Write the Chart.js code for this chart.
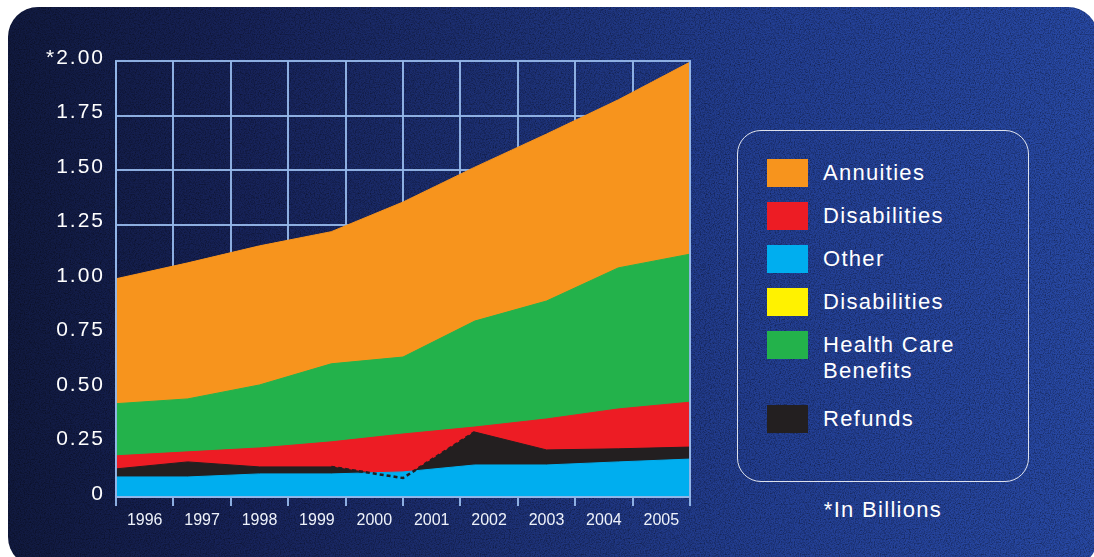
<!DOCTYPE html>
<html>
<head>
<meta charset="utf-8">
<script src="https://cdn.jsdelivr.net/npm/chart.js@4.4.1/dist/chart.umd.min.js"></script>
<style>
html, body { margin: 0; padding: 0; width: 1094px; height: 557px; overflow: hidden; background: #fff; font-family: "Liberation Sans", Arial, sans-serif; }
#panel {
    position: absolute; left: 8px; top: 7px; width: 1090px; height: 560px; border-radius: 30px;
    background-image:
        url("data:image/svg+xml;utf8,<svg xmlns='http://www.w3.org/2000/svg' width='400' height='400'><filter id='n'><feTurbulence type='fractalNoise' baseFrequency='0.8' numOctaves='3' stitchTiles='stitch'/><feColorMatrix values='0 0 0 0 0  0 0 0 0 0  0 0 0 0 0  0.9 0 0 0 -0.35'/></filter><rect width='100%' height='100%' filter='url(%23n)'/></svg>"),
        linear-gradient(90deg, #111a40 0%, #17235a 22%, #1d3176 45%, #233f94 70%, #2849a5 100%);
}
#chartWrap { position: absolute; left: 0; top: 0; width: 720px; height: 557px; }
#legend {
    position: absolute; left: 737px; top: 130px; width: 292px; height: 352px;
    border: 1.5px solid rgba(255,255,255,0.85); border-radius: 24px; box-sizing: border-box;
    padding: 28px 0 0 29px; display: flex; flex-direction: column; gap: 15px;
}
.item { display: flex; align-items: flex-start; }
.swatch { width: 41px; height: 28px; flex: none; }
.label { margin-left: 15px; color: #fff; font-size: 22px; letter-spacing: 1.3px; line-height: 26px; margin-top: 1px; }
#note { position: absolute; left: 737px; top: 497px; width: 292px; text-align: center; color: #fff; font-size: 22px; letter-spacing: 1.3px; }
</style>
</head>
<body>
<div id="panel"></div>
<div id="chartWrap"><canvas id="benefitsChart" width="720" height="557"></canvas></div>
<div id="legend"></div>
<div id="note">*In Billions</div>

<script>
// x tick labels (columns) and y ticks
const years = ['1996', '1997', '1998', '1999', '2000', '2001', '2002', '2003', '2004', '2005'];
const yTicks = [0, 0.25, 0.5, 0.75, 1, 1.25, 1.5, 1.75, 2];

// layer thickness at each of the 9 plotted points, in billions
const otherVals      = [0.092, 0.092, 0.106, 0.106, 0.115, 0.147, 0.147, 0.161, 0.174];
const refundVals     = [0.037, 0.069, 0.032, 0.032, -0.028, 0.151, 0.069, 0.060, 0.055];
const disabilityVals = [0.060, 0.046, 0.087, 0.115, 0.174, 0.023, 0.142, 0.183, 0.206];
const healthVals     = [0.239, 0.243, 0.289, 0.358, 0.353, 0.486, 0.541, 0.647, 0.679];
const annuityVals    = [0.573, 0.624, 0.638, 0.606, 0.711, 0.706, 0.766, 0.771, 0.881];

const legendLabels = ['Annuities', 'Disabilities', 'Other', 'Disabilities', 'Health Care<br>Benefits', 'Refunds'];
const legendColors = ['#f7941d', '#ed1c24', '#00aeef', '#fff200', '#23b24b', '#231f20'];

const gridColor = 'rgba(148, 182, 232, 0.95)';

// running totals for the painted layers
const blueTop = otherVals.slice();
const blackTop = otherVals.map((v, i) => v + refundVals[i]);
const redTop = otherVals.map((v, i) => v + Math.max(refundVals[i], 0) + disabilityVals[i]);
const greenTop = redTop.map((v, i) => v + healthVals[i]);
const orangeTop = greenTop.map((v, i) => v + annuityVals[i]);

// dotted line where refunds drop below zero
const dipPoints = [];
refundVals.forEach((v, i) => {
    const near = refundVals[i] < 0 || refundVals[i - 1] < 0 || refundVals[i + 1] < 0;
    if (near) dipPoints.push({ x: i, y: blackTop[i] });
});

function layer(label, tops, color) {
    return {
        label: label,
        data: tops.map((v, i) => ({ x: i, y: v })),
        xAxisID: 'xData',
        fill: 'origin',
        backgroundColor: color,
        borderColor: color,
        borderWidth: 1,
        pointRadius: 0,
        tension: 0
    };
}

// build the html legend
const legendEl = document.getElementById('legend');
legendLabels.forEach((txt, i) => {
    const row = document.createElement('div');
    row.className = 'item';
    if (i === 5) row.style.marginTop = '6px';
    row.innerHTML = `<div class="swatch" style="background:${legendColors[i]}"></div><div class="label">${txt}</div>`;
    legendEl.appendChild(row);
});

// y tick labels are drawn after the datasets so they can get letter spacing
const spacingPlugin = {
    id: 'spacing',
    afterDatasetsDraw(chart) { chart.ctx.letterSpacing = '2px'; },
    afterDraw(chart) { chart.ctx.letterSpacing = '0px'; }
};

const ctx = document.getElementById('benefitsChart').getContext('2d');
new Chart(ctx, {
    type: 'line',
    data: {
        datasets: [
            {
                label: 'Refunds dip',
                data: dipPoints,
                xAxisID: 'xData',
                fill: false,
                borderColor: '#231f20',
                borderWidth: 2.5,
                borderDash: [4, 3],
                pointRadius: 0
            },
            layer('Other', blueTop, '#00aeef'),
            layer('Refunds', blackTop, '#231f20'),
            layer('Disabilities', redTop, '#ed1c24'),
            layer('Health Care Benefits', greenTop, '#23b24b'),
            layer('Annuities', orangeTop, '#f7941d')
        ]
    },
    options: {
        responsive: false,
        animation: false,
        layout: { padding: { top: 61, right: 30, bottom: 20, left: 0 } },
        plugins: { legend: { display: false }, tooltip: { enabled: false } },
        scales: {
            xData: { type: 'linear', min: 0, max: 8, display: false },
            x: {
                type: 'category',
                labels: years,
                position: 'bottom',
                offset: true,
                grid: { offset: true, color: gridColor, lineWidth: 2, tickLength: 9, tickColor: gridColor, tickWidth: 2 },
                border: { display: true, color: gridColor, width: 2, z: 1 },
                ticks: { color: '#eef2fa', font: { family: 'Liberation Sans', size: 16 }, padding: 5, maxRotation: 0 },
                afterFit: s => { s.height = 40; }
            },
            y: {
                type: 'linear',
                min: 0,
                max: 2,
                afterBuildTicks: s => { s.ticks = yTicks.map(v => ({ value: v })); },
                grid: { color: gridColor, lineWidth: 2, drawTicks: false },
                border: { display: true, color: gridColor, width: 2, z: 1 },
                ticks: {
                    z: 1,
                    color: '#ffffff',
                    font: { family: 'Liberation Sans', size: 21 },
                    padding: 11,
                    labelOffset: -3,
                    callback: v => v === 0 ? '0' : (v === 2 ? '*2.00' : v.toFixed(2))
                },
                afterFit: s => { s.width = 116; }
            },
            yRight: {
                type: 'linear',
                position: 'right',
                min: 0,
                max: 2,
                grid: { display: false },
                ticks: { display: false },
                border: { display: true, color: gridColor, width: 2, z: 1 },
                afterFit: s => { s.width = 0; }
            }
        }
    },
    plugins: [spacingPlugin]
});
</script>
</body>
</html>
